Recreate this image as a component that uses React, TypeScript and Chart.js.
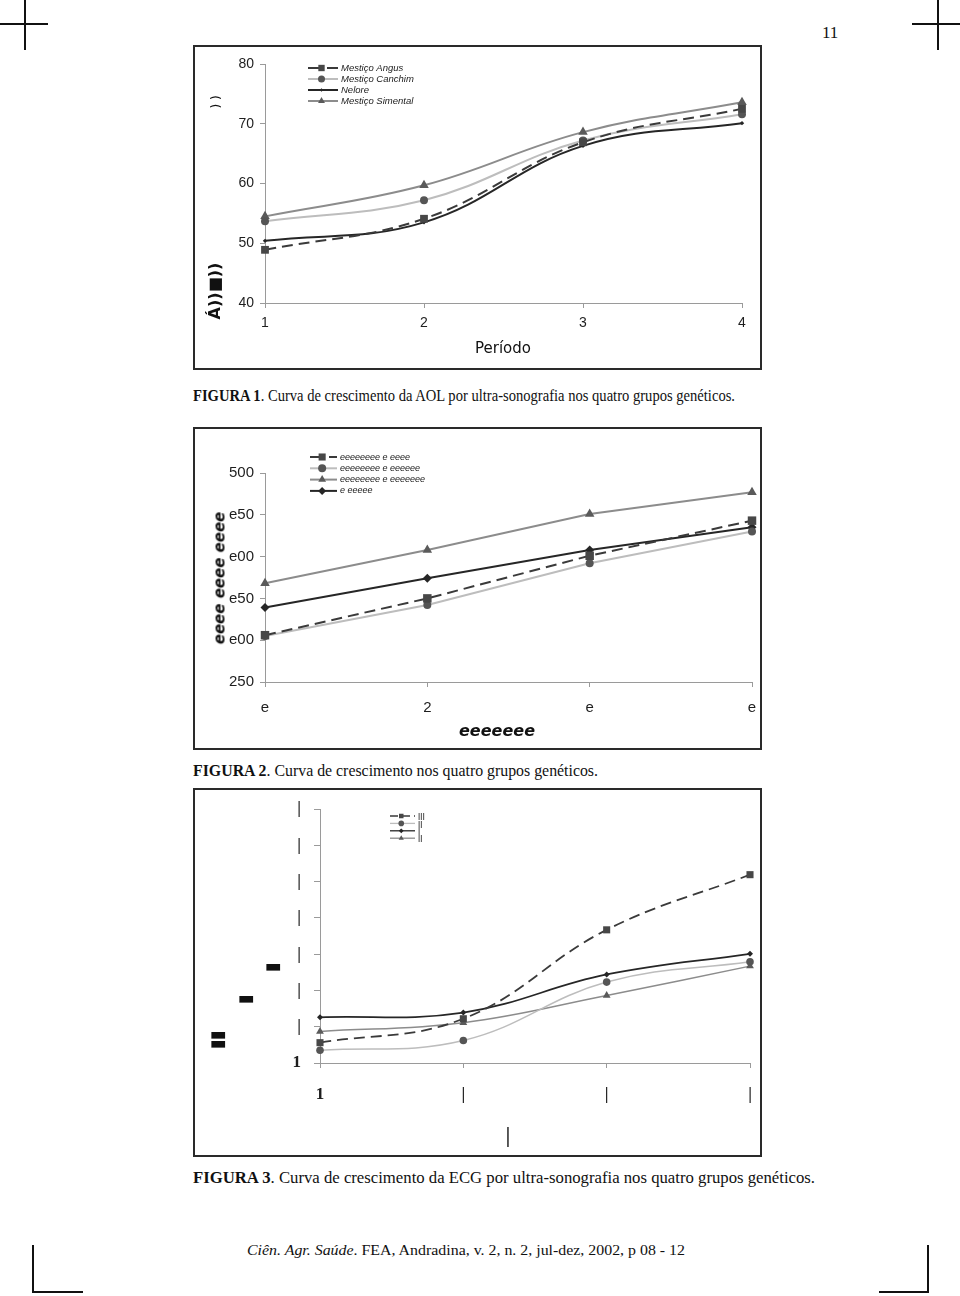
import React, { useEffect, useLayoutEffect, useRef } from "react";
import { Chart, registerables } from "chart.js";
Chart.register(...registerables);

// ---------- DATA ----------
const periods = ["1", "2", "3", "4"];

// Figure 1 (AOL)
const f1Names = ["Mestiço Angus", "Mestiço Canchim", "Nelore", "Mestiço Simental"];
const f1Angus = [48.9, 54.1, 66.9, 72.5];
const f1Canchim = [53.7, 57.2, 67.2, 71.6];
const f1Nelore = [50.4, 53.5, 66.3, 70.1];
const f1Simental = [54.5, 59.7, 68.6, 73.6];

// Figure 2
const f2XLabels = ["e", "2", "e", "e"];
const f2YTickLabels = ["250", "e00", "e50", "e00", "e50", "500"];
const f2Names = ["eeeeeeee e eeee", "eeeeeeee e eeeeee", "eeeeeeee e eeeeeee", "e eeeee"];
const f2Angus = [306, 350, 401, 443];
const f2Canchim = [305, 342, 392, 430];
const f2Simental = [368, 408, 451, 477];
const f2Nelore = [339, 374, 408, 435];

// Figure 3 (ECG)
const f3XLabels = ["1", "|", "|", "|"];
const f3YTickLabels = ["1", "|", "|", "|", "|", "|", "|", "|"];
const f3Names = ["|||", "||", "|", "||"];
const f3Angus = [0.56, 1.22, 3.67, 5.19];
const f3Canchim = [0.35, 0.62, 2.23, 2.79];
const f3Nelore = [1.26, 1.39, 2.44, 3.01];
const f3Simental = [0.87, 1.11, 1.86, 2.67];

// ---------- STYLES ----------
const angusStyle = { borderColor: "#3a3a3a", borderDash: [11, 6], pointStyle: "rect", pointBackgroundColor: "#474747", pointBorderColor: "#474747" };
const canchimStyle = { borderColor: "#bdbdbd", pointStyle: "circle", pointBackgroundColor: "#555", pointBorderColor: "#555" };
const neloreStyle = { borderColor: "#262626", pointStyle: "rectRot", pointBackgroundColor: "#262626", pointBorderColor: "#262626" };
const simentalStyle = { borderColor: "#8c8c8c", pointStyle: "triangle", pointBackgroundColor: "#5a5a5a", pointBorderColor: "#5a5a5a" };

function ds(label: string, data: number[], style: any, extra: any) {
  return { label, data, ...style, borderWidth: 2, pointBorderWidth: 0, clip: false, ...extra };
}

function drawMarker(ctx: CanvasRenderingContext2D, style: string, x: number, y: number, r: number, color: string) {
  ctx.fillStyle = color;
  ctx.beginPath();
  if (style === "rect") {
    const s = r * Math.SQRT1_2;
    ctx.rect(x - s, y - s, 2 * s, 2 * s);
  } else if (style === "circle") {
    ctx.arc(x, y, r, 0, Math.PI * 2);
  } else if (style === "triangle") {
    let a = 0;
    ctx.moveTo(x + Math.sin(a) * r, y - Math.cos(a) * r);
    a += (2 * Math.PI) / 3;
    ctx.lineTo(x + Math.sin(a) * r, y - Math.cos(a) * r);
    a += (2 * Math.PI) / 3;
    ctx.lineTo(x + Math.sin(a) * r, y - Math.cos(a) * r);
    ctx.closePath();
  } else if (style === "rectRot") {
    ctx.moveTo(x - r, y);
    ctx.lineTo(x, y - r);
    ctx.lineTo(x + r, y);
    ctx.lineTo(x, y + r);
    ctx.closePath();
  }
  ctx.fill();
}

const legendPlugin = {
  id: "customLegend",
  afterDraw(chart: any, _args: any, opts: any) {
    if (!opts || opts.x === undefined) return;
    const ctx = chart.ctx as CanvasRenderingContext2D;
    ctx.save();
    chart.data.datasets.forEach((d: any, i: number) => {
      const y = opts.y + i * opts.rowH;
      ctx.strokeStyle = d.borderColor;
      ctx.lineWidth = opts.lineWidth;
      ctx.setLineDash(d.borderDash ? opts.dash : []);
      ctx.beginPath();
      ctx.moveTo(opts.x, y);
      ctx.lineTo(opts.x + opts.lineLen, y);
      ctx.stroke();
      ctx.setLineDash([]);
      drawMarker(ctx, d.pointStyle, opts.x + opts.lineLen * 0.45, y, opts.markerR[i], d.pointBackgroundColor);
      ctx.fillStyle = opts.color;
      ctx.font = opts.font;
      ctx.textBaseline = "middle";
      ctx.textAlign = "left";
      ctx.fillText(d.label, opts.x + opts.lineLen + opts.gap, y);
    });
    ctx.restore();
  },
};

function axisCommon(fontFamily: string, size: number, weight: string, padding: number, tickLength: number) {
  return {
    grid: { display: true, drawOnChartArea: false, drawTicks: true, tickLength, color: "#9a9a9a", lineWidth: 1 },
    border: { display: true, color: "#9a9a9a", width: 1 },
    ticks: { font: { family: fontFamily, size, weight }, color: "#1e1e1e", padding, maxRotation: 0, autoSkip: false },
  };
}

function fixX(h: number) {
  return (s: any) => {
    s.height = h;
    s.paddingLeft = 0;
    s.paddingRight = 0;
  };
}
function fixY(w: number) {
  return (s: any) => {
    s.width = w;
    s.paddingTop = 0;
    s.paddingBottom = 0;
  };
}

function fig1Config(): any {
  const xa = axisCommon("Liberation Sans", 14, "normal", 7, 5);
  const ya = axisCommon("Liberation Sans", 14, "normal", 6, 5);
  return {
    type: "line",
    data: {
      labels: periods,
      datasets: [
        ds(f1Names[0], f1Angus, angusStyle, { tension: 0.4, pointRadius: 5.5 }),
        ds(f1Names[1], f1Canchim, canchimStyle, { tension: 0.4, pointRadius: 4 }),
        ds(f1Names[2], f1Nelore, neloreStyle, { tension: 0.4, pointRadius: 2.2 }),
        ds(f1Names[3], f1Simental, simentalStyle, { tension: 0.4, pointRadius: 5.5 }),
      ],
    },
    options: {
      responsive: false,
      animation: false,
      devicePixelRatio: 1,
      layout: { padding: { top: 17, right: 18, left: 0, bottom: 0 } },
      plugins: {
        legend: { display: false },
        tooltip: { enabled: false },
        customLegend: { x: 113, y: 21, rowH: 11, lineLen: 30, gap: 3, lineWidth: 2, dash: [14, 5], markerR: [4.5, 3.5, 1.8, 4], font: "italic 9.5px 'Liberation Sans'", color: "#222" },
      },
      scales: {
        x: { type: "category", offset: false, ...xa, afterFit: fixX(65) },
        y: { min: 40, max: 80, ...ya, ticks: { ...ya.ticks, stepSize: 10 }, afterFit: fixY(70) },
      },
    },
    plugins: [legendPlugin],
  };
}

function fig2Config(): any {
  const xa = axisCommon("Liberation Sans", 15, "normal", 12, 5);
  const ya = axisCommon("Liberation Sans", 15, "normal", 6, 5);
  return {
    type: "line",
    data: {
      labels: f2XLabels,
      datasets: [
        ds(f2Names[0], f2Angus, angusStyle, { tension: 0, pointRadius: 6 }),
        ds(f2Names[1], f2Canchim, canchimStyle, { tension: 0, pointRadius: 4 }),
        ds(f2Names[2], f2Simental, simentalStyle, { tension: 0, pointRadius: 5.5 }),
        ds(f2Names[3], f2Nelore, neloreStyle, { tension: 0, pointRadius: 4.5 }),
      ],
    },
    options: {
      responsive: false,
      animation: false,
      devicePixelRatio: 1,
      layout: { padding: { top: 44, right: 8, left: 0, bottom: 0 } },
      plugins: {
        legend: { display: false },
        tooltip: { enabled: false },
        customLegend: { x: 115, y: 28, rowH: 11.3, lineLen: 27, gap: 3, lineWidth: 2, dash: [14, 5], markerR: [5, 4, 4.5, 4], font: "italic 9px 'Liberation Sans'", color: "#222" },
      },
      scales: {
        x: { type: "category", offset: false, ...xa, afterFit: fixX(66) },
        y: {
          min: 250, max: 500, ...ya,
          ticks: { ...ya.ticks, stepSize: 50, callback: (_v: any, i: number) => f2YTickLabels[i] },
          afterFit: fixY(70),
        },
      },
    },
    plugins: [legendPlugin],
  };
}

function fig3Config(): any {
  const xa = axisCommon("Liberation Serif", 17, "bold", 16, 5);
  const ya = axisCommon("Liberation Serif", 17, "bold", 13, 6);
  return {
    type: "line",
    data: {
      labels: f3XLabels,
      datasets: [
        ds(f3Names[0], f3Angus, angusStyle, { tension: 0.4, pointRadius: 5, borderWidth: 1.8 }),
        ds(f3Names[1], f3Canchim, canchimStyle, { tension: 0.4, pointRadius: 3.8, borderWidth: 1.5 }),
        ds(f3Names[2], f3Nelore, neloreStyle, { tension: 0.4, pointRadius: 3, borderWidth: 1.8 }),
        ds(f3Names[3], f3Simental, simentalStyle, { tension: 0.4, pointRadius: 4.5, borderWidth: 1.5 }),
      ],
    },
    options: {
      responsive: false,
      animation: false,
      devicePixelRatio: 1,
      layout: { padding: { top: 19, right: 10, left: 0, bottom: 0 } },
      plugins: {
        legend: { display: false },
        tooltip: { enabled: false },
        customLegend: { x: 195, y: 26, rowH: 7.4, lineLen: 25, gap: 3, lineWidth: 1.3, dash: [8, 4], markerR: [3.2, 2.8, 2.4, 3], font: "bold 8px 'Liberation Sans'", color: "#555" },
      },
      scales: {
        x: { type: "category", offset: false, ...xa, afterFit: fixX(92) },
        y: {
          min: 0, max: 7, ...ya,
          ticks: { ...ya.ticks, stepSize: 1, callback: (_v: any, i: number) => f3YTickLabels[i] },
          afterFit: fixY(125),
        },
      },
    },
    plugins: [legendPlugin],
  };
}

// ---------- COMPONENTS ----------
function ChartCanvas({ make, left, top, width, height }: any) {
  const ref = useRef<HTMLCanvasElement>(null);
  useEffect(() => {
    const c = new Chart(ref.current as HTMLCanvasElement, make());
    return () => c.destroy();
  }, []);
  return (
    <canvas
      ref={ref}
      width={width}
      height={height}
      style={{ position: "absolute", left, top, width, height }}
    />
  );
}

function FitText({ x, cy, w, size, family, children, style }: any) {
  const ref = useRef<HTMLSpanElement>(null);
  useLayoutEffect(() => {
    const el = ref.current;
    if (!el) return;
    el.style.transform = "none";
    const nat = el.getBoundingClientRect().width;
    if (nat > 0 && w) el.style.transform = `scaleX(${w / nat})`;
  }, [w]);
  return (
    <span
      ref={ref}
      style={{
        position: "absolute",
        left: x,
        top: cy - size / 2,
        fontSize: size,
        lineHeight: `${size}px`,
        fontFamily: family || "'Liberation Serif'",
        whiteSpace: "nowrap",
        display: "inline-block",
        transformOrigin: "0 0",
        color: "#111",
        ...style,
      }}
    >
      {children}
    </span>
  );
}

function Label({ cx, cy, size, rotate, children, style }: any) {
  return (
    <div
      style={{
        position: "absolute",
        left: cx,
        top: cy,
        transform: `translate(-50%, -50%) rotate(${rotate || 0}deg)`,
        fontSize: size,
        lineHeight: 1,
        whiteSpace: "nowrap",
        color: "#111",
        ...style,
      }}
    >
      {children}
    </div>
  );
}

function Line({ x, y, w, h }: any) {
  return <div style={{ position: "absolute", left: x, top: y, width: w, height: h, background: "#111" }} />;
}

function Box({ x, y, w, h }: any) {
  return (
    <div
      style={{
        position: "absolute",
        left: x,
        top: y,
        width: w,
        height: h,
        boxSizing: "border-box",
        border: "2px solid #2a2a2a",
      }}
    />
  );
}

export default function App() {
  return (
    <div style={{ position: "absolute", left: 0, top: 0, width: 960, height: 1296, background: "#fff", overflow: "hidden" }}>
      {/* crop marks */}
      <Line x={0} y={23} w={48} h={1.5} />
      <Line x={24} y={0} w={1.5} h={50} />
      <Line x={912} y={23} w={48} h={1.5} />
      <Line x={937} y={0} w={1.5} h={50} />
      <Line x={32} y={1245} w={1.5} h={48} />
      <Line x={32} y={1291} w={51} h={1.5} />
      <Line x={927} y={1245} w={1.5} h={48} />
      <Line x={879} y={1291} w={50} h={1.5} />

      <FitText x={822} cy={32} size={17}>11</FitText>

      {/* Figure 1 */}
      <Box x={193} y={45} w={569} h={325} />
      <ChartCanvas make={fig1Config} left={195} top={47} width={565} height={321} />
      <Label cx={216} cy={102} size={12} rotate={-90} style={{ fontFamily: "'DejaVu Sans'" }}>) )</Label>
      <Label cx={215} cy={291} size={16} rotate={-90} style={{ fontFamily: "'DejaVu Sans'", fontWeight: "bold" }}>Á))■))</Label>
      <Label cx={503} cy={348} size={15} style={{ fontFamily: "'DejaVu Sans'" }}>Período</Label>
      <FitText x={193} cy={395} w={542} size={17}>
        <b>FIGURA 1</b>. Curva de crescimento da AOL por ultra-sonografia nos quatro grupos genéticos.
      </FitText>

      {/* Figure 2 */}
      <Box x={193} y={427} w={569} h={323} />
      <ChartCanvas make={fig2Config} left={195} top={429} width={565} height={319} />
      <Label cx={220} cy={578} size={15} rotate={-90} style={{ fontFamily: "'DejaVu Sans'", fontStyle: "italic", fontWeight: "bold" }}>eeee eeee eeee</Label>
      <Label cx={497} cy={731} size={16} style={{ fontFamily: "'DejaVu Sans'", fontStyle: "italic", fontWeight: "bold" }}>eeeeeee</Label>
      <FitText x={193} cy={770} w={405} size={17}>
        <b>FIGURA 2</b>. Curva de crescimento nos quatro grupos genéticos.
      </FitText>

      {/* Figure 3 */}
      <Box x={193} y={788} w={569} h={369} />
      <ChartCanvas make={fig3Config} left={195} top={790} width={565} height={365} />
      <Label cx={273} cy={966} size={18} style={{ fontFamily: "'DejaVu Sans'" }}>▬</Label>
      <Label cx={246} cy={998} size={18} style={{ fontFamily: "'DejaVu Sans'" }}>▬</Label>
      <Label cx={218} cy={1038} size={18} style={{ fontFamily: "'DejaVu Sans'", lineHeight: 0.5 }}>▬<br />▬</Label>
      <Label cx={508} cy={1135} size={20} style={{ fontFamily: "'Liberation Serif'", fontWeight: "bold" }}>|</Label>
      <FitText x={193} cy={1177} w={622} size={17}>
        <b>FIGURA 3</b>. Curva de crescimento da ECG por ultra-sonografia nos quatro grupos genéticos.
      </FitText>

      {/* footer */}
      <FitText x={247} cy={1250} w={438} size={15}>
        <i>Ciên. Agr. Saúde</i>. FEA, Andradina, v. 2, n. 2, jul-dez, 2002, p 08 - 12
      </FitText>
    </div>
  );
}
